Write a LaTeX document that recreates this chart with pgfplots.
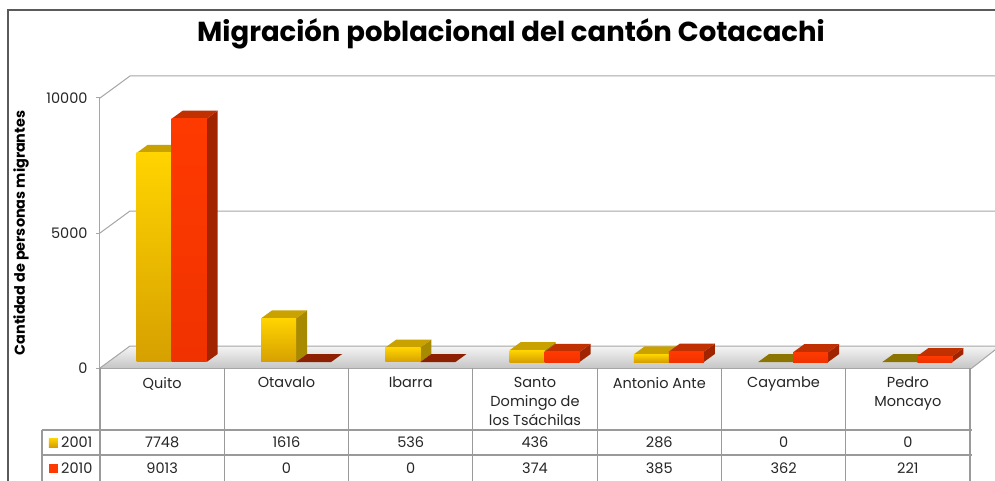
\documentclass[border=0pt]{standalone}
\usepackage{pgfplots}
\pgfplotsset{compat=1.18}
\usepackage{fontspec}
\setmainfont{Poppins}

\pgfdeclarelayer{background}
\pgfsetlayers{background,main}

\definecolor{yT}{HTML}{FFD400}
\definecolor{yB}{HTML}{D6A000}
\definecolor{yTop}{HTML}{C9A200}
\definecolor{ySide}{HTML}{A88A00}
\definecolor{yZero}{HTML}{8C7400}
\definecolor{rF}{HTML}{FF3A00}
\definecolor{rFb}{HTML}{F03200}
\definecolor{rTop}{HTML}{C03000}
\definecolor{rSide}{HTML}{A02400}
\definecolor{rZero}{HTML}{8C2000}
\definecolor{gridc}{HTML}{A6A6A6}
\definecolor{tablec}{HTML}{9A9A9A}
\definecolor{framec}{HTML}{5A5A5A}

\pgfdeclareverticalshading{yfront}{100bp}{color(0bp)=(yB); color(25bp)=(yB); color(75bp)=(yT); color(100bp)=(yT)}
\pgfdeclareverticalshading{rfront}{100bp}{color(0bp)=(rFb); color(25bp)=(rFb); color(75bp)=(rF); color(100bp)=(rF)}

% 3D prism marks: origin at the data point (front plane), h = 0.027 pt per unit
\pgfdeclareplotmark{prismA}{%
  \pgfmathsetmacro\hh{0.027*\ry}%
  \pgfsetfillcolor{ySide}%
  \pgfpathmoveto{\pgfpoint{9.6pt}{6pt}}%
  \pgfpathlineto{\pgfpoint{20.6pt}{14pt}}%
  \pgfpathlineto{\pgfpoint{20.6pt}{14pt-\hh pt}}%
  \pgfpathlineto{\pgfpoint{9.6pt}{6pt-\hh pt}}%
  \pgfpathclose\pgfusepath{fill}%
  \ifdim\hh pt>0.5pt \pgfsetfillcolor{yTop}\else\pgfsetfillcolor{yZero}\fi
  \pgfpathmoveto{\pgfpoint{-25.4pt}{6pt}}%
  \pgfpathlineto{\pgfpoint{-14.4pt}{14pt}}%
  \pgfpathlineto{\pgfpoint{20.6pt}{14pt}}%
  \pgfpathlineto{\pgfpoint{9.6pt}{6pt}}%
  \pgfpathclose\pgfusepath{fill}%
  \ifdim\hh pt>0.5pt
    \pgfpathrectanglecorners{\pgfpoint{-25.4pt}{6pt-\hh pt}}{\pgfpoint{9.6pt}{6pt}}%
    \pgfshadepath{yfront}{0}\pgfusepath{}%
  \fi
}
\pgfdeclareplotmark{prismB}{%
  \pgfmathsetmacro\hh{0.027*\ry}%
  \pgfsetfillcolor{rSide}%
  \pgfpathmoveto{\pgfpoint{44.6pt}{6pt}}%
  \pgfpathlineto{\pgfpoint{55.6pt}{14pt}}%
  \pgfpathlineto{\pgfpoint{55.6pt}{14pt-\hh pt}}%
  \pgfpathlineto{\pgfpoint{44.6pt}{6pt-\hh pt}}%
  \pgfpathclose\pgfusepath{fill}%
  \ifdim\hh pt>0.5pt \pgfsetfillcolor{rTop}\else\pgfsetfillcolor{rZero}\fi
  \pgfpathmoveto{\pgfpoint{9.6pt}{6pt}}%
  \pgfpathlineto{\pgfpoint{20.6pt}{14pt}}%
  \pgfpathlineto{\pgfpoint{55.6pt}{14pt}}%
  \pgfpathlineto{\pgfpoint{44.6pt}{6pt}}%
  \pgfpathclose\pgfusepath{fill}%
  \ifdim\hh pt>0.5pt
    \pgfpathrectanglecorners{\pgfpoint{9.6pt}{6pt-\hh pt}}{\pgfpoint{44.6pt}{6pt}}%
    \pgfshadepath{rfront}{0}\pgfusepath{}%
  \fi
}

\begin{document}
\begin{tikzpicture}[x=1pt,y=1pt]
\begin{axis}[
  scale only axis, width=870pt, height=270pt,
  xmin=-0.5, xmax=6.5, ymin=0, ymax=10000,
  axis y line*=left, axis x line=none,
  axis line style={gridc, line width=1pt, -},
  ytick={0,5000,10000}, tick align=outside, major tick length=4pt,
  ytick style={gridc, line width=1pt},
  scaled y ticks=false,
  /pgf/number format/assume math mode=true,
  /pgf/number format/1000 sep={},
  yticklabel style={font=\fontsize{14.5}{16}\selectfont, text=black!85, xshift=-5pt},
  clip=false,
]
\coordinate (O) at (axis cs:-0.5,0);
\addplot[scatter, only marks, mark=prismA, visualization depends on={rawy \as \ry}]
  coordinates {(0,7748) (1,1616) (2,536) (3,436) (4,286) (5,0) (6,0)};
\addplot[scatter, only marks, mark=prismB, visualization depends on={rawy \as \ry}]
  coordinates {(0,9013) (1,0) (2,0) (3,374) (4,385) (5,362) (6,221)};
\end{axis}

\path (O) ++(-100,-112) coordinate (Z);
\begin{scope}[shift={(Z)}]
\useasboundingbox (0,0) rectangle (995,480);
\begin{pgfonlayer}{background}
\fill[white] (0,0) rectangle (995,480);
% floor
\shade[top color=gray!8, bottom color=gray!45] (100,112) -- (130,134) -- (1000,134) -- (972,112) -- cycle;
% back wall grid lines
\foreach \y in {0,135,270} {
  \draw[gridc, line width=1pt] (100,112+\y) -- (130,134+\y) -- (1000,134+\y);
}
\draw[gridc, line width=1pt] (972,112) -- (1000,134);
\end{pgfonlayer}
% outer frame
\draw[framec, line width=1.2pt] (8,470) rectangle (1010,-10);
% title
\node[font=\fontsize{27.5}{30}\selectfont\bfseries] at (511,446) {Migración poblacional del cantón Cotacachi};
% y label
\node[rotate=90, font=\fontsize{14.4}{16}\selectfont\bfseries] at (21,247) {Cantidad de personas migrantes};

% data table
\draw[gridc, line width=1pt] (100,112) -- (972,112);
\foreach \k in {0,...,7} {
  \draw[tablec, line width=1.2pt] ({100+\k*124.2857},112) -- ({100+\k*124.2857},-2);
}
\draw[tablec, line width=1.2pt] (42,50) -- (972,50);
\draw[tablec, line width=1.2pt] (42,25) -- (972,25);
\draw[tablec, line width=1.2pt] (42,50) -- (42,-2);
\foreach \i/\t in {0/Quito, 1/Otavalo, 2/Ibarra, 3/{Santo\\Domingo de\\los Tsáchilas}, 4/Antonio Ante, 5/Cayambe, 6/{Pedro\\Moncayo}} {
  \node[anchor=north, align=center, inner sep=0pt, font=\fontsize{14.5}{19}\selectfont, text=black!85] at ({100+(\i+0.5)*124.2857},103) {\t};
}
\foreach \i/\a/\b in {0/7748/9013, 1/1616/0, 2/536/0, 3/436/374, 4/286/385, 5/0/362, 6/0/221} {
  \node[anchor=base, inner sep=0pt, font=\fontsize{14.5}{16}\selectfont, text=black!85] at ({100+(\i+0.5)*124.2857},33) {\a};
  \node[anchor=base, inner sep=0pt, font=\fontsize{14.5}{16}\selectfont, text=black!85] at ({100+(\i+0.5)*124.2857},7) {\b};
}
% legend keys
\shade[top color=yT, bottom color=yB] (49,33) rectangle (58,42);
\node[anchor=base west, inner sep=0pt, font=\fontsize{14.5}{16}\selectfont, text=black!85] at (61,33) {2001};
\fill[rF] (49,7) rectangle (58,16);
\node[anchor=base west, inner sep=0pt, font=\fontsize{14.5}{16}\selectfont, text=black!85] at (61,7) {2010};
\end{scope}
\end{tikzpicture}
\end{document}
